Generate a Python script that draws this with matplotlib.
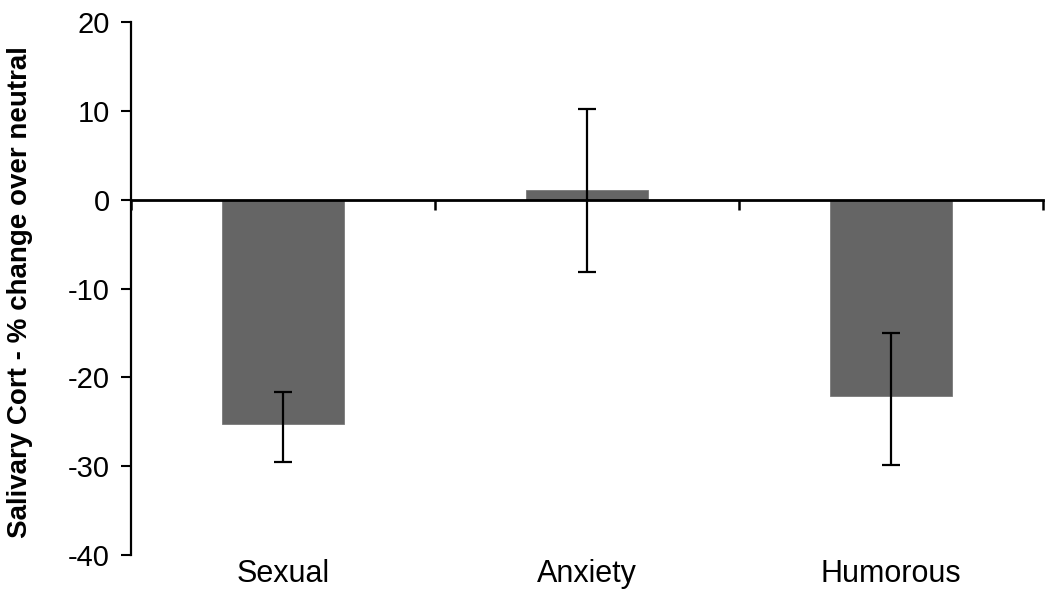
import matplotlib
matplotlib.use("Agg")
import matplotlib.pyplot as plt
import matplotlib.transforms as mtransforms
import numpy as np

categories = ["Sexual", "Anxiety", "Humorous"]
means = [-25.3, 1.05, -22.1]
err_lower = [4.2, 9.15, 7.8]
err_upper = [3.6, 9.2, 7.1]
yticks = [-40, -30, -20, -10, 0, 10, 20]
ylabel = "Salivary Cort - % change over neutral"

plt.rcParams["font.family"] = ["Liberation Sans", "DejaVu Sans"]

fig = plt.figure(figsize=(10.5, 5.94), dpi=100)
ax = fig.add_axes([131 / 1050, 1 - 555 / 594, (1043 - 131) / 1050, (555 - 22) / 594])

x = np.arange(len(categories))
ax.bar(x, means, width=0.4, color="#656565", edgecolor="#7a7a7a", linewidth=0.6, zorder=2)
ax.errorbar(x, means, yerr=[err_lower, err_upper], fmt="none", ecolor="black",
            elinewidth=1.6, capsize=6.2, capthick=1.6, zorder=3)

ax.set_xlim(-0.5, len(categories) - 0.5)
ax.set_ylim(-40, 20)
ax.set_yticks(yticks)
ax.set_yticklabels([str(t) for t in yticks], fontsize=21)
ax.tick_params(axis="y", direction="out", length=7.2, width=1.5, pad=8)

# category boundaries as ticks on the zero line
ax.set_xticks(np.arange(len(categories) + 1) - 0.5)
ax.set_xticklabels([])
ax.tick_params(axis="x", direction="out", length=7, width=1.8)

for s in ["top", "right"]:
    ax.spines[s].set_visible(False)
ax.spines["bottom"].set_position(("data", 0))
ax.spines["bottom"].set_linewidth(2)
ax.spines["bottom"].set_zorder(4)
ax.spines["left"].set_linewidth(1.6)

trans = mtransforms.blended_transform_factory(ax.transData, ax.transAxes)
for xi, cat in zip(x, categories):
    ax.text(xi, -0.0507, cat, transform=trans, ha="center", va="baseline", fontsize=22)

ax.set_ylabel(ylabel, fontsize=20, fontweight="bold")
ax.yaxis.set_label_coords(-0.1217, 0.494)
ax.yaxis.label.set_va("center")

fig.savefig("out.png", dpi=100)
